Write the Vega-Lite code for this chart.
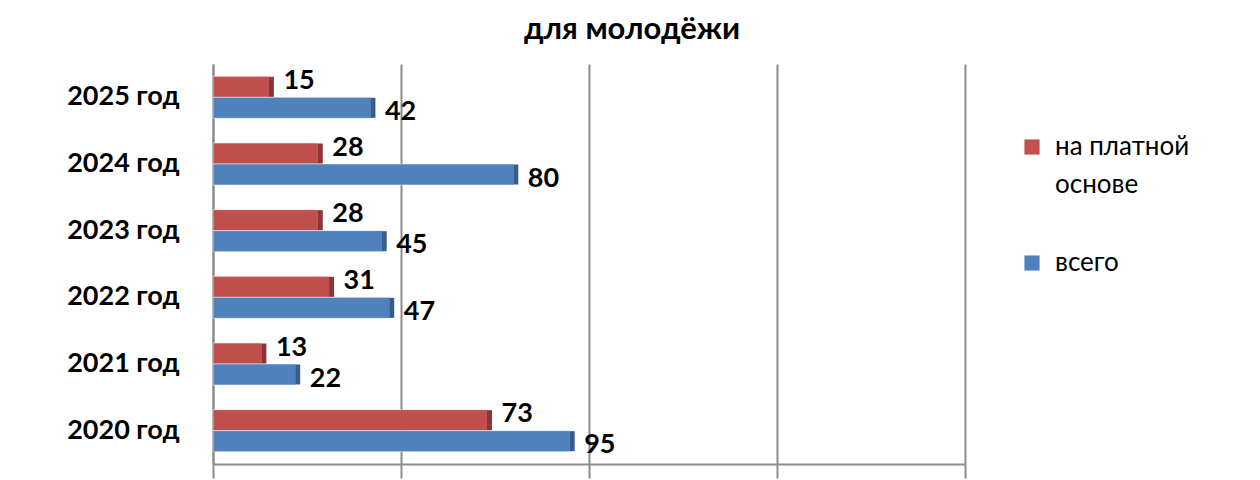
{
  "$schema": "https://vega.github.io/schema/vega-lite/v6.json",
  "description": "для молодёжи",
  "autosize": "none",
  "width": 752,
  "height": 400,
  "padding": {"left": 213, "top": 64, "right": 295, "bottom": 16},
  "background": "white",
  "title": {
    "text": "для молодёжи",
    "font": "Lato",
    "fontSize": 31,
    "fontWeight": "bold",
    "color": "black",
    "anchor": "middle",
    "offset": 18,
    "dx": 43
  },
  "config": {
    "view": {"stroke": null},
    "font": "Lato",
    "style": {"guide-label": {"lineHeight": 38}}
  },
  "data": {
    "values": [
      {"year": "2025 год", "series": "на платной основе", "value": 15},
      {"year": "2025 год", "series": "всего", "value": 42},
      {"year": "2024 год", "series": "на платной основе", "value": 28},
      {"year": "2024 год", "series": "всего", "value": 80},
      {"year": "2023 год", "series": "на платной основе", "value": 28},
      {"year": "2023 год", "series": "всего", "value": 45},
      {"year": "2022 год", "series": "на платной основе", "value": 31},
      {"year": "2022 год", "series": "всего", "value": 47},
      {"year": "2021 год", "series": "на платной основе", "value": 13},
      {"year": "2021 год", "series": "всего", "value": 22},
      {"year": "2020 год", "series": "на платной основе", "value": 73},
      {"year": "2020 год", "series": "всего", "value": 95}
    ]
  },
  "encoding": {
    "y": {
      "field": "year",
      "type": "nominal",
      "sort": "descending",
      "scale": {"paddingInner": 0.37, "paddingOuter": 0.185},
      "axis": {
        "title": null,
        "labelFont": "Lato",
        "labelFontSize": 27,
        "labelFontWeight": "bold",
        "labelColor": "black",
        "labelPadding": 34,
        "ticks": false,
        "domainColor": "#8c8c8c",
        "domainWidth": 2
      }
    },
    "yOffset": {
      "field": "series",
      "type": "nominal",
      "sort": ["на платной основе", "всего"],
      "scale": {"paddingInner": 0}
    },
    "x": {
      "field": "value",
      "type": "quantitative",
      "scale": {"domain": [0, 200], "nice": false},
      "axis": {
        "title": null,
        "values": [0, 50, 100, 150, 200],
        "labels": false,
        "grid": true,
        "gridColor": "#8c8c8c",
        "gridWidth": 2,
        "domainColor": "#8c8c8c",
        "domainWidth": 2,
        "tickColor": "#8c8c8c",
        "tickWidth": 2,
        "tickSize": 14
      }
    }
  },
  "layer": [
    {
      "mark": {"type": "bar", "stroke": "white", "strokeWidth": 0.5},
      "encoding": {
        "color": {
          "field": "series",
          "type": "nominal",
          "scale": {
            "domain": ["на платной основе", "всего"],
            "range": ["#C0504D", "#4F81BD"]
          },
          "legend": {
            "title": null,
            "orient": "none",
            "legendX": 806,
            "legendY": 70,
            "symbolType": "square",
            "symbolSize": 230,
            "symbolStrokeWidth": 0,
            "labelFont": "Lato",
            "labelFontSize": 26,
            "labelColor": "black",
            "labelOffset": 10,
            "labelLimit": 300,
            "rowPadding": 52,
            "labelExpr": "datum.label == 'на платной основе' ? ['на платной', 'основе'] : datum.label"
          }
        }
      }
    },
    {
      "mark": {"type": "tick", "orient": "vertical", "thickness": 5, "size": 20, "xOffset": 2, "opacity": 1},
      "encoding": {
        "color": {
          "field": "series",
          "type": "nominal",
          "scale": {
            "domain": ["на платной основе", "всего"],
            "range": ["#8B3634", "#385D8A"]
          },
          "legend": null
        }
      }
    },
    {
      "transform": [{"filter": "datum.series == 'на платной основе'"}],
      "mark": {
        "type": "text",
        "align": "left",
        "baseline": "middle",
        "dx": 14,
        "dy": -6,
        "font": "Lato",
        "fontSize": 27,
        "fontWeight": "bold",
        "color": "black"
      },
      "encoding": {"text": {"field": "value", "type": "quantitative"}}
    },
    {
      "transform": [{"filter": "datum.series == 'всего'"}],
      "mark": {
        "type": "text",
        "align": "left",
        "baseline": "middle",
        "dx": 14,
        "dy": 4,
        "font": "Lato",
        "fontSize": 27,
        "fontWeight": "bold",
        "color": "black"
      },
      "encoding": {"text": {"field": "value", "type": "quantitative"}}
    }
  ],
  "resolve": {"scale": {"color": "independent"}}
}
